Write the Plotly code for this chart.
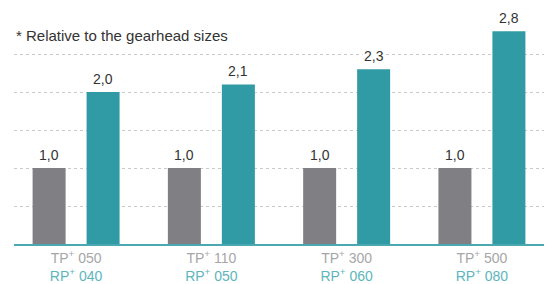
import plotly.graph_objects as go

tp_labels = ["050", "110", "300", "500"]
rp_labels = ["040", "050", "060", "080"]
tp_values = [1.0, 1.0, 1.0, 1.0]
rp_values = [2.0, 2.1, 2.3, 2.8]
note = "* Relative to the gearhead sizes"

GREY = "#808084"
TEAL = "#309ba4"
x = list(range(len(tp_labels)))
bw = 0.244

ticktext = [
    f"<span style='color:#a6a6a8'>TP<sup>+</sup> {a}</span><br><span style='color:#5cb6bc'>RP<sup>+</sup> {b}</span>"
    for a, b in zip(tp_labels, rp_labels)
]

fig = go.Figure()
fig.add_trace(go.Bar(x=x, y=tp_values, width=bw, offset=-0.3215,
                     marker=dict(color=GREY, line=dict(width=0)), hoverinfo="skip"))
fig.add_trace(go.Bar(x=x, y=rp_values, width=bw, offset=0.0776,
                     marker=dict(color=TEAL, line=dict(width=0)), hoverinfo="skip"))

def fmt(v):
    return f"{v:.1f}".replace(".", ",")

for xi, v in zip(x, tp_values):
    fig.add_annotation(x=xi - 0.3215 + bw / 2, y=v, text=fmt(v), showarrow=False,
                       yanchor="bottom", yshift=3, bgcolor="white", borderpad=1,
                       font=dict(size=14, color="#333333"))
for xi, v in zip(x, rp_values):
    fig.add_annotation(x=xi + 0.0776 + bw / 2, y=v, text=fmt(v), showarrow=False,
                       yanchor="bottom", yshift=3, bgcolor="white", borderpad=1,
                       font=dict(size=14, color="#333333"))

fig.add_annotation(xref="paper", yref="y", x=0, y=2.75, text=note, showarrow=False,
                   xanchor="left", yanchor="middle", font=dict(size=15, color="#333333"))

fig.update_layout(
    width=551, height=284,
    margin=dict(l=14, r=7, t=16, b=40, autoexpand=False),
    paper_bgcolor="white", plot_bgcolor="white",
    showlegend=False,
    font=dict(family="Liberation Sans, Arial, sans-serif", size=14, color="#333333"),
    xaxis=dict(range=[-0.459, 3.459], tickvals=x, ticktext=ticktext,
               showgrid=False, zeroline=False, showline=True,
               linecolor="#4aa9b0", linewidth=1.5, ticks="", automargin=False,
               tickfont=dict(size=14)),
    yaxis=dict(range=[0, 3], dtick=0.5, showticklabels=False, showgrid=True,
               gridcolor="#cacaca", griddash="dot", gridwidth=1, automargin=False,
               zeroline=False, showline=False),
)

fig.write_html("out.html", config={"displayModeBar": False},
               post_script="document.body.style.margin='0';document.body.style.padding='0';")
